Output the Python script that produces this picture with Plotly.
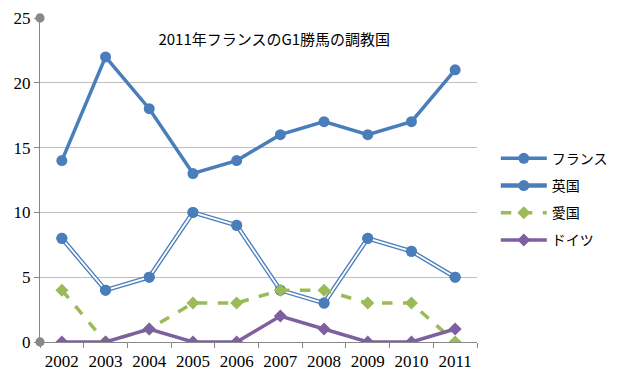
import plotly.graph_objects as go

years = ["2002", "2003", "2004", "2005", "2006", "2007", "2008", "2009", "2010", "2011"]
france = [14, 22, 18, 13, 14, 16, 17, 16, 17, 21]
uk = [8, 4, 5, 10, 9, 4, 3, 8, 7, 5]
ireland = [4, 0, 1, 3, 3, 4, 4, 3, 3, 0]
germany = [0, 0, 1, 0, 0, 2, 1, 0, 0, 1]
title_text = "2011年フランスのG1勝馬の調教国"

blue = "#4A7EBB"
green = "#9BBB59"
purple = "#7E60A0"

fig = go.Figure()
fig.add_trace(go.Scatter(x=years, y=france, name="フランス", mode="lines+markers",
                         line=dict(color=blue, width=3.5), legendgroup="fr",
                         marker=dict(symbol="circle", size=11, color=blue)))
fig.add_trace(go.Scatter(x=years, y=uk, name="英国", mode="lines+markers",
                         line=dict(color=blue, width=4.5),
                         marker=dict(symbol="circle", size=11, color=blue),
                         legendgroup="uk"))
fig.add_trace(go.Scatter(x=years, y=uk, name="英国", mode="lines",
                         line=dict(color="white", width=1.8),
                         showlegend=False, legendgroup="uk", hoverinfo="skip"))
fig.add_trace(go.Scatter(x=years, y=uk, name="英国", mode="markers",
                         marker=dict(symbol="circle", size=11, color=blue),
                         showlegend=False, legendgroup="uk", hoverinfo="skip"))
fig.add_trace(go.Scatter(x=years, y=ireland, name="愛国", mode="lines+markers",
                         line=dict(color=green, width=3.5, dash="dash"), legendgroup="ie",
                         marker=dict(symbol="diamond", size=10, color=green)))
fig.add_trace(go.Scatter(x=years, y=germany, name="ドイツ", mode="lines+markers",
                         line=dict(color=purple, width=3.5), legendgroup="de",
                         marker=dict(symbol="diamond", size=10, color=purple)))

fig.update_layout(
    width=615, height=370,
    margin=dict(l=32, r=136, t=10, b=36),
    paper_bgcolor="white", plot_bgcolor="white",
    title=dict(text=title_text, x=0.433, xanchor="center", y=0.913, yanchor="middle",
               font=dict(family="Noto Sans CJK JP", size=15, color="black")),
    legend=dict(x=1.043, y=0.615, xanchor="left", yanchor="top", itemwidth=46,
                font=dict(family="Noto Sans CJK JP", size=14, color="black"),
                traceorder="grouped", tracegroupgap=6, bgcolor="rgba(0,0,0,0)"),
    font=dict(family="Liberation Serif", size=16, color="black"),
)
fig.update_xaxes(type="category", range=[-0.5, 9.5], showgrid=False, automargin=False,
                 showline=True, linecolor="#888888", linewidth=1,
                 ticks="outside", tickson="boundaries", ticklen=5, tickcolor="#888888",
                 ticklabelstandoff=4,
                 tickfont=dict(family="Liberation Serif", size=17, color="black"))
fig.update_yaxes(range=[0, 25], tickvals=[0, 5, 10, 15, 20, 25], automargin=False,
                 showgrid=True, gridcolor="#BFBFBF", gridwidth=1,
                 showline=True, linecolor="#888888", linewidth=1,
                 ticks="outside", ticklen=5, tickcolor="#888888",
                 zeroline=False,
                 tickfont=dict(family="Liberation Serif", size=17, color="black"))
fig.add_shape(type="circle", xref="paper", yref="paper", x0=-0.0105, x1=0.0105,
              y0=0.9855, y1=1.0145, fillcolor="#888888", line=dict(width=0))
fig.add_shape(type="circle", xref="paper", yref="paper", x0=-0.0105, x1=0.0105,
              y0=-0.0145, y1=0.0145, fillcolor="#888888", line=dict(width=0))
fig.write_html("out.html")
